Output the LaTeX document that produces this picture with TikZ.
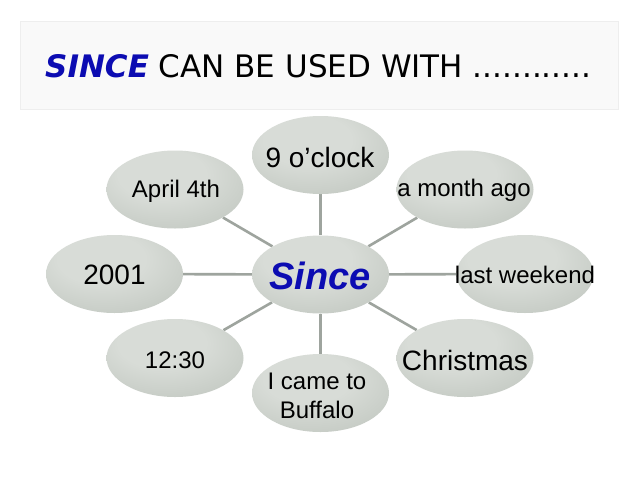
\documentclass[tikz,border=0pt]{standalone}
\usepackage{fontspec}
\setmainfont{Liberation Sans}
\newfontfamily\titlefont{DejaVu Sans}
\usetikzlibrary{shapes.geometric,backgrounds}
\definecolor{eLight}{RGB}{216,220,215}
\definecolor{eMid}{RGB}{192,198,191}
\definecolor{eDark}{RGB}{150,158,150}
\definecolor{linkgray}{RGB}{158,164,158}
\definecolor{sinceblue}{RGB}{12,12,178}
\definecolor{boxfill}{RGB}{249,249,249}
\definecolor{boxline}{RGB}{238,238,238}
\pgfdeclareradialshading{ellshade}{\pgfpoint{-6bp}{12bp}}{%
  color(0bp)=(eLight); color(16bp)=(eLight); color(40bp)=(eMid);
  color(60bp)=(eDark); color(80bp)=(eDark)}
\tikzset{
  ell/.style={ellipse, minimum width=137pt, minimum height=78pt, inner sep=0pt,
    shading=ellshade},
  txt/.style={inner sep=0pt, text=black, font=\fontsize{24}{29}\selectfont, align=center},
  bigtxt/.style={txt, font=\fontsize{28}{32}\selectfont},
  link/.style={draw=linkgray, line width=2.6pt},
}
\begin{document}
\begin{tikzpicture}[x=1pt,y=-1pt]
\useasboundingbox (0,0) rectangle (640,480);
% ellipses
\node[ell] (since) at (320.5,274.5) {};
\node[ell] (nine) at (320.5,155) {};
\node[ell] (april) at (175,189.5) {};
\node[ell] (month) at (465,189.5) {};
\node[ell] (y2001) at (114.5,274) {};
\node[ell] (weekend) at (525,274) {};
\node[ell] (noon) at (175,358) {};
\node[ell] (xmas) at (465,358) {};
\node[ell] (buffalo) at (320.5,393) {};
% background and connectors
\begin{scope}[on background layer]
\fill[white] (0,0) rectangle (640,480);
\node[draw=boxline, fill=boxfill, minimum width=598pt, minimum height=88pt, inner sep=0pt] (titlebox) at (319.5,65) {};
\foreach \n in {nine,april,month,y2001,weekend,noon,xmas,buffalo}
  \draw[link] (since) -- (\n);
\end{scope}
\node[inner sep=0pt, anchor=base west, font=\titlefont\fontsize{31}{34}\selectfont] (title) at (45,77)
  {\textcolor{sinceblue}{\bfseries\itshape SINCE} CAN BE USED WITH ............};
% texts
\node[txt, font=\fontsize{38}{40}\selectfont\bfseries\itshape, text=sinceblue] (tsince) at (320,276) {Since};
\node[bigtxt] (tnine) at (320,157) {9 o’clock};
\node[txt] (tapril) at (176,191) {April 4th};
\node[txt] (tmonth) at (464,190) {a month ago};
\node[bigtxt] (t2001) at (114.5,275) {2001};
\node[txt] (tweekend) at (525,275) {last weekend};
\node[txt] (tnoon) at (175,360) {12:30};
\node[bigtxt] (txmas) at (465,360) {Christmas};
\node[txt] (tbuffalo) at (317,396) {I came to\\Buffalo};
\end{tikzpicture}
\end{document}
